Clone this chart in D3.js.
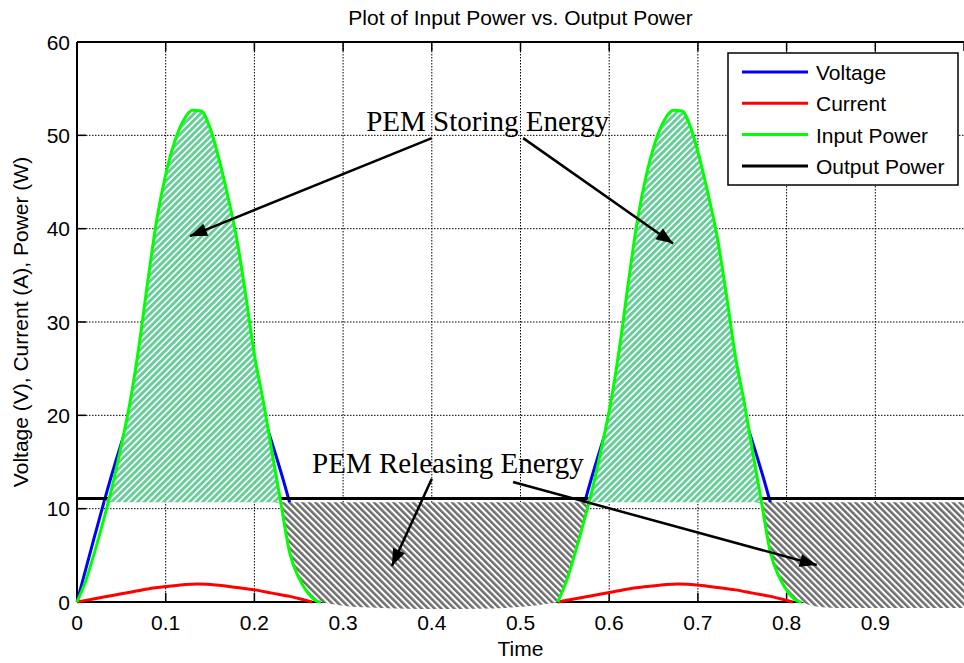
<!DOCTYPE html>
<html>
<head>
<meta charset="utf-8">
<script src="https://cdn.jsdelivr.net/npm/d3@7"></script>
<style>
  html, body { margin: 0; padding: 0; background: #fff; }
  svg { display: block; }
  text { font-family: "Liberation Sans", Arial, Helvetica, sans-serif; fill: #000; }
  .serif { font-family: "Liberation Serif", "Times New Roman", serif; }
</style>
</head>
<body>
<svg id="chart" width="964" height="663"></svg>
<script>
// ---------------- DATA ----------------
const xTicks = [0, 0.1, 0.2, 0.3, 0.4, 0.5, 0.6, 0.7, 0.8, 0.9, 1];
const xTickLabels = ["0", "0.1", "0.2", "0.3", "0.4", "0.5", "0.6", "0.7", "0.8", "0.9", ""];
const yTicks = [0, 10, 20, 30, 40, 50, 60];
const yTickLabels = ["0", "10", "20", "30", "40", "50", "60"];

// Input power (W), first and second hump
const powerTime1 = [0, 0.01, 0.02, 0.03, 0.04, 0.05, 0.06, 0.07, 0.08, 0.09, 0.10, 0.11, 0.12, 0.13, 0.14, 0.15, 0.16, 0.17, 0.18, 0.19, 0.20, 0.21, 0.22, 0.23, 0.24, 0.25, 0.26, 0.27, 0.275];
const powerValue1 = [0, 2.3, 5.4, 8.8, 12.5, 16.8, 21.5, 27.5, 34.5, 41, 45.8, 49.3, 51.6, 52.7, 52.6, 50.8, 47.5, 43.5, 39, 33, 26.5, 21.5, 16, 10.5, 5.2, 2.6, 1.0, 0.1, 0];
const powerTime2 = [0.542, 0.552, 0.562, 0.572, 0.582, 0.592, 0.602, 0.612, 0.622, 0.632, 0.642, 0.652, 0.662, 0.672, 0.682, 0.692, 0.702, 0.712, 0.722, 0.732, 0.742, 0.752, 0.762, 0.772, 0.782, 0.792, 0.802, 0.812, 0.817];
const powerValue2 = [0, 2.3, 5.4, 8.8, 12.5, 16.8, 21.5, 27.5, 34.5, 41, 45.8, 49.3, 51.6, 52.7, 52.6, 50.8, 47.5, 43.5, 39, 33, 26.5, 21.5, 16, 10.5, 5.2, 2.6, 1.0, 0.1, 0];

// Voltage (V)
const voltageTime1 = [0, 0.02, 0.04, 0.06, 0.08, 0.10, 0.12, 0.135, 0.15, 0.17, 0.19, 0.21, 0.23, 0.25, 0.27];
const voltageValue1 = [0, 7.1, 13.9, 19.9, 24.9, 28.5, 30.5, 31, 30.5, 28.5, 24.9, 19.9, 13.9, 7.1, 0];
const voltageTime2 = [0.542, 0.562, 0.582, 0.602, 0.622, 0.642, 0.662, 0.677, 0.692, 0.712, 0.732, 0.752, 0.772, 0.792, 0.812];
const voltageValue2 = [0, 7.1, 13.9, 19.9, 24.9, 28.5, 30.5, 31, 30.5, 28.5, 24.9, 19.9, 13.9, 7.1, 0];

// Current (A)
const currentTime1 = [0, 0.02, 0.04, 0.06, 0.08, 0.10, 0.12, 0.135, 0.16, 0.18, 0.20, 0.22, 0.24, 0.255, 0.265];
const currentValue1 = [0, 0.35, 0.7, 1.05, 1.4, 1.65, 1.85, 1.93, 1.8, 1.55, 1.3, 0.95, 0.6, 0.25, 0];
const currentTime2 = [0.542, 0.562, 0.582, 0.602, 0.622, 0.642, 0.662, 0.677, 0.702, 0.722, 0.742, 0.762, 0.782, 0.797, 0.807];
const currentValue2 = [0, 0.35, 0.7, 1.05, 1.4, 1.65, 1.85, 1.93, 1.8, 1.55, 1.3, 0.95, 0.6, 0.25, 0];

// Output power (W)
const outputTime = [0, 1];
const outputValue = [11.1, 11.1];

// Hatch boundary level and lower edge of the "releasing" hatch outside the humps
const fillLevel = 10.7;
const releaseStartTime = 0.13;
const releaseFloorTimeGap = [0.285, 0.30, 0.33, 0.37, 0.41, 0.45, 0.49, 0.515, 0.53];
const releaseFloorValueGap = [-0.2, -0.4, -0.6, -0.72, -0.75, -0.72, -0.6, -0.4, -0.2];
const releaseFloorTimeTail = [0.825, 0.84, 0.87, 1.0];
const releaseFloorValueTail = [-0.3, -0.55, -0.65, -0.65];

// Legend
const legendLabels = ["Voltage", "Current", "Input Power", "Output Power"];
const legendColors = ["#0000ff", "#ff0000", "#00ff00", "#000000"];

// Annotations (data coordinates)
const annotationTexts = ["PEM Storing Energy", "PEM Releasing Energy"];
const annotationAnchor = [[0.326, 50.5], [0.265, 13.8]];
const arrowsFrom = [[0.400, 49.7], [0.503, 49.7], [0.400, 13.2], [0.4916, 12.86]];
const arrowsTo = [[0.1274, 39.2], [0.672, 38.4], [0.355, 3.86], [0.834, 3.96]];

// ---------------- CHART ----------------
const svg = d3.select("#chart");
const plot = { left: 77, right: 964, top: 42, bottom: 602 };
const x = d3.scaleLinear().domain([0, 1]).range([plot.left, plot.right]);
const y = d3.scaleLinear().domain([0, 60]).range([plot.bottom, plot.top]);

const zip = (t, v) => t.map((d, i) => ({ t: d, v: v[i] }));

// patterns
const defs = svg.append("defs");
const pg = defs.append("pattern").attr("id", "hatchGreen")
  .attr("patternUnits", "userSpaceOnUse").attr("width", 4.6).attr("height", 10)
  .attr("patternTransform", "rotate(45)");
pg.append("rect").attr("width", 4.6).attr("height", 10).attr("fill", "#ffffff");
pg.append("rect").attr("width", 2.9).attr("height", 10).attr("fill", "#66cc99");
const pgr = defs.append("pattern").attr("id", "hatchGray")
  .attr("patternUnits", "userSpaceOnUse").attr("width", 4.6).attr("height", 10)
  .attr("patternTransform", "rotate(-45)");
pgr.append("rect").attr("width", 4.6).attr("height", 10).attr("fill", "#ffffff");
pgr.append("rect").attr("width", 2.5).attr("height", 10).attr("fill", "#6e6e6e");

defs.append("marker").attr("id", "arrowHead")
  .attr("markerUnits", "userSpaceOnUse").attr("viewBox", "-18 -8 20 16")
  .attr("refX", 0).attr("refY", 0).attr("markerWidth", 20).attr("markerHeight", 16)
  .attr("orient", "auto")
  .append("path").attr("d", "M0,0 L-17,-6.5 L-17,6.5 Z").attr("fill", "#000");

// grid
const grid = svg.append("g");
grid.selectAll("line.gx").data(xTicks.filter(d => d > 0 && d < 1)).join("line")
  .attr("x1", d => x(d)).attr("x2", d => x(d)).attr("y1", plot.top).attr("y2", plot.bottom)
  .attr("stroke", "#000").attr("stroke-width", 1).attr("stroke-dasharray", "1.5,1.5");
grid.selectAll("line.gy").data(yTicks.filter(d => d > 0 && d < 60)).join("line")
  .attr("x1", plot.left).attr("x2", plot.right).attr("y1", d => y(d)).attr("y2", d => y(d))
  .attr("stroke", "#000").attr("stroke-width", 1).attr("stroke-dasharray", "1.5,1.5");

// axes frame and ticks
const ax = svg.append("g");
ax.append("line").attr("x1", plot.left).attr("x2", plot.right).attr("y1", plot.bottom).attr("y2", plot.bottom).attr("stroke", "#000").attr("stroke-width", 2);
ax.append("line").attr("x1", plot.left).attr("x2", plot.right).attr("y1", plot.top).attr("y2", plot.top).attr("stroke", "#000").attr("stroke-width", 2);
ax.append("line").attr("x1", plot.left).attr("x2", plot.left).attr("y1", plot.top).attr("y2", plot.bottom).attr("stroke", "#000").attr("stroke-width", 2);
ax.selectAll("line.tb").data(xTicks).join("line")
  .attr("x1", d => x(d)).attr("x2", d => x(d)).attr("y1", plot.bottom).attr("y2", plot.bottom - 9)
  .attr("stroke", "#000").attr("stroke-width", 1.5);
ax.selectAll("line.tt").data(xTicks).join("line")
  .attr("x1", d => x(d)).attr("x2", d => x(d)).attr("y1", plot.top).attr("y2", plot.top + 9)
  .attr("stroke", "#000").attr("stroke-width", 1.5);
ax.selectAll("line.tl").data(yTicks).join("line")
  .attr("x1", plot.left).attr("x2", plot.left + 9).attr("y1", d => y(d)).attr("y2", d => y(d))
  .attr("stroke", "#000").attr("stroke-width", 1.5);

// tick labels
svg.append("g").selectAll("text").data(xTicks).join("text")
  .attr("x", d => x(d)).attr("y", 630).attr("text-anchor", "middle")
  .attr("font-size", 21).text((d, i) => xTickLabels[i]);
svg.append("g").selectAll("text").data(yTicks).join("text")
  .attr("x", 70).attr("y", d => y(d) + 7.5).attr("text-anchor", "end")
  .attr("font-size", 21).text((d, i) => yTickLabels[i]);

// titles
svg.append("text").attr("x", (plot.left + plot.right) / 2).attr("y", 25)
  .attr("text-anchor", "middle").attr("font-size", 21).text("Plot of Input Power vs. Output Power");
svg.append("text").attr("x", (plot.left + plot.right) / 2).attr("y", 656)
  .attr("text-anchor", "middle").attr("font-size", 21).text("Time");
svg.append("text").attr("transform", `translate(28,${(plot.top + plot.bottom) / 2}) rotate(-90)`)
  .attr("text-anchor", "middle").attr("font-size", 21).text("Voltage (V), Current (A), Power (W)");

const line = d3.line().x(d => x(d.t)).y(d => y(d.v)).curve(d3.curveMonotoneX);

// voltage, current, output power lines
const lines = svg.append("g").attr("fill", "none").attr("stroke-width", 3);
[zip(voltageTime1, voltageValue1), zip(voltageTime2, voltageValue2)].forEach(s =>
  lines.append("path").attr("d", line(s)).attr("stroke", legendColors[0]));
[zip(currentTime1, currentValue1), zip(currentTime2, currentValue2)].forEach(s =>
  lines.append("path").attr("d", line(s)).attr("stroke", legendColors[1]));
lines.append("path").attr("d", line(zip(outputTime, outputValue))).attr("stroke", legendColors[3]);

// storing hatch (input power above output)
const storeArea = d3.area().x(d => x(d.t)).y0(y(fillLevel))
  .y1(d => y(Math.max(d.v, fillLevel))).curve(d3.curveMonotoneX);
[zip(powerTime1, powerValue1), zip(powerTime2, powerValue2)].forEach(s =>
  svg.append("path").attr("d", storeArea(s)).attr("fill", "url(#hatchGreen)"));

// releasing hatch (input power below output, after the first peak)
const releasePts = [].concat(
  zip(powerTime1, powerValue1).filter(d => d.t >= releaseStartTime),
  zip(releaseFloorTimeGap, releaseFloorValueGap),
  zip(powerTime2, powerValue2),
  zip(releaseFloorTimeTail, releaseFloorValueTail));
const releaseArea = d3.area().x(d => x(d.t)).y0(y(fillLevel))
  .y1(d => y(Math.min(d.v, fillLevel))).curve(d3.curveMonotoneX);
svg.append("path").attr("d", releaseArea(releasePts)).attr("fill", "url(#hatchGray)");

// input power line on top
[zip(powerTime1, powerValue1), zip(powerTime2, powerValue2)].forEach(s =>
  svg.append("path").attr("d", line(s)).attr("fill", "none")
    .attr("stroke", legendColors[2]).attr("stroke-width", 3));

// annotations
annotationTexts.forEach((txt, i) => {
  svg.append("text").attr("class", "serif")
    .attr("x", x(annotationAnchor[i][0])).attr("y", y(annotationAnchor[i][1]))
    .attr("font-size", 29).text(txt);
});
arrowsFrom.forEach((f, i) => {
  svg.append("line")
    .attr("x1", x(f[0])).attr("y1", y(f[1]))
    .attr("x2", x(arrowsTo[i][0])).attr("y2", y(arrowsTo[i][1]))
    .attr("stroke", "#000").attr("stroke-width", 2.5)
    .attr("marker-end", "url(#arrowHead)");
});

// legend
const lg = svg.append("g");
lg.append("rect").attr("x", 728).attr("y", 53).attr("width", 230).attr("height", 132)
  .attr("fill", "#fff").attr("stroke", "#000").attr("stroke-width", 1.5);
legendLabels.forEach((lab, i) => {
  const ly = 72 + i * 31.3;
  lg.append("line").attr("x1", 742).attr("x2", 808).attr("y1", ly).attr("y2", ly)
    .attr("stroke", legendColors[i]).attr("stroke-width", 3);
  lg.append("text").attr("x", 816).attr("y", ly + 8).attr("font-size", 21).text(lab);
});
</script>
</body>
</html>
